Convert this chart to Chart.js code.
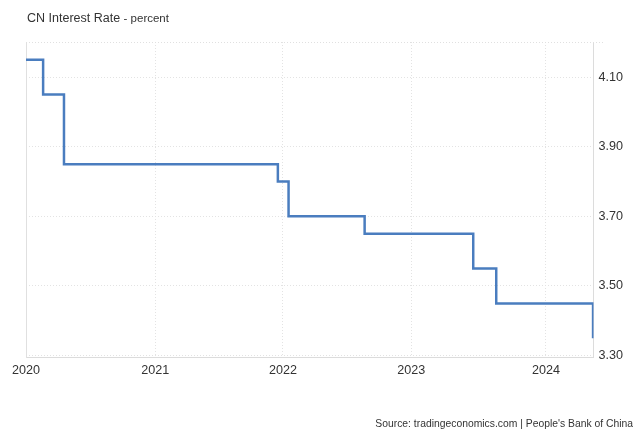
<!DOCTYPE html>
<html>
<head>
<meta charset="utf-8">
<script src="https://cdn.jsdelivr.net/npm/chart.js@4.4.1/dist/chart.umd.min.js"></script>
<style>
  body { margin: 0; background: #fff; font-family: "Liberation Sans", Arial, sans-serif; }
  #wrap { position: relative; width: 640px; height: 437px; }
  #title { position: absolute; left: 27px; top: 11px; font-size: 12.5px; color: #333; white-space: nowrap; }
  #title span { font-size: 11.5px; }
  #source { position: absolute; right: 7px; top: 418px; font-size: 10.35px; color: #333; white-space: nowrap; }
</style>
</head>
<body>
<div id="wrap">
  <canvas id="rateChart" width="640" height="437"></canvas>
  <div id="title">CN Interest Rate <span>- percent</span></div>
  <div id="source">Source: tradingeconomics.com | People's Bank of China</div>
</div>
<script>
// months since Jan 2020
const changeMonths = [0, 1.6, 3.55, 23.54, 24.54, 31.65, 41.8, 43.95, 53.0];
const rates = [4.15, 4.05, 3.85, 3.80, 3.70, 3.65, 3.55, 3.45, 3.35];

const yearLabels = ["2020", "2021", "2022", "2023", "2024"];
const yearPositions = [0, 12.07, 24.01, 36.01, 48.6];
const rateTicks = [3.30, 3.50, 3.70, 3.90, 4.10];

const chartCanvas = document.getElementById("rateChart");

const frameLines = {
  id: "frameLines",
  beforeDatasetsDraw(chart) {
    const { ctx, chartArea } = chart;
    ctx.save();
    ctx.strokeStyle = "#e0e0e0";
    ctx.lineWidth = 1;
    ctx.beginPath();
    ctx.moveTo(chartArea.left + 0.5, chartArea.top);
    ctx.lineTo(chartArea.left + 0.5, chartArea.bottom);
    ctx.stroke();
    ctx.setLineDash([1, 2]);
    ctx.beginPath();
    ctx.moveTo(chartArea.left, chartArea.top + 0.5);
    ctx.lineTo(chartArea.right + 10, chartArea.top + 0.5);
    ctx.stroke();
    ctx.restore();
  }
};

new Chart(chartCanvas, {
  type: "line",
  data: {
    datasets: [{
      label: "CN Interest Rate",
      data: changeMonths.map((m, i) => ({ x: m, y: rates[i] })),
      borderColor: "#4a7dbf",
      borderWidth: 2.5,
      stepped: "before",
      pointRadius: 0,
      fill: false
    }]
  },
  options: {
    responsive: false,
    animation: false,
    layout: { padding: { left: 26, top: 42, right: 12, bottom: 54 } },
    plugins: {
      legend: { display: false },
      tooltip: { enabled: false }
    },
    scales: {
      x: {
        type: "linear",
        min: 0,
        max: 53.04,
        afterBuildTicks: scale => {
          scale.ticks = yearPositions.map(v => ({ value: v }));
        },
        ticks: {
          autoSkip: false,
          maxRotation: 0,
          padding: 5,
          color: "#333",
          font: { family: "Liberation Sans", size: 12.6 },
          callback: (value, index) => yearLabels[index]
        },
        grid: { color: "#e3e3e3", lineWidth: 1, drawTicks: false },
        border: { display: true, color: "#dcdcdc", dash: [1, 2] }
      },
      y: {
        position: "right",
        min: 3.2934,
        max: 4.201,
        afterBuildTicks: scale => {
          scale.ticks = rateTicks.map(v => ({ value: v }));
        },
        ticks: {
          padding: 5,
          color: "#333",
          font: { family: "Liberation Sans", size: 12.6 },
          callback: value => value.toFixed(2)
        },
        grid: { color: "#e3e3e3", lineWidth: 1, drawTicks: false },
        border: { display: true, color: "#dcdcdc", dash: [1, 2] }
      }
    }
  },
  plugins: [frameLines]
});
</script>
</body>
</html>
